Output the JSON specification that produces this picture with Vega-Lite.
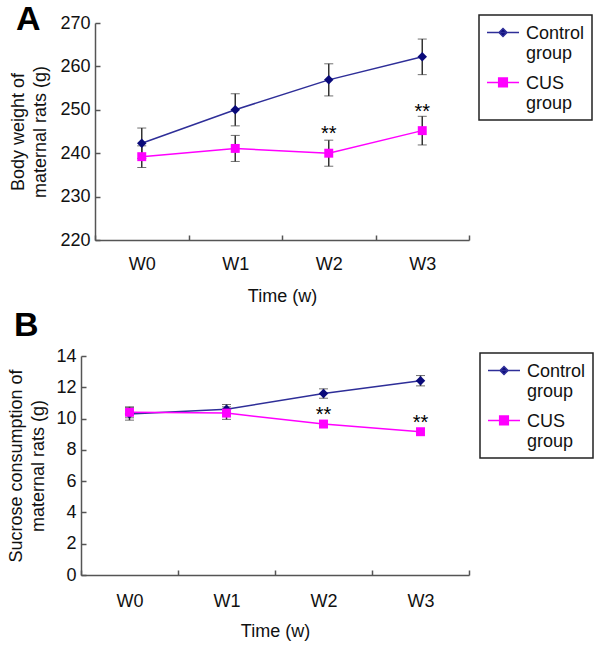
{
  "$schema": "https://vega.github.io/schema/vega-lite/v6.json",
  "padding": {"left": 7, "top": 3, "right": 2, "bottom": 2},
  "background": "white",
  "config": {
    "font": "Liberation Sans",
    "view": {"stroke": null},
    "axis": {"domainColor": "#555", "domainWidth": 1.5, "tickColor": "#555", "tickWidth": 1.5, "tickSize": -5, "labelFont": "Liberation Sans", "labelFontSize": 18, "labelColor": "#111", "titleFont": "Liberation Sans", "titleFontSize": 18, "titleFontWeight": "normal", "titleColor": "#111", "grid": false, "titleLineHeight": 22, "labelOverlap": false},
    "legend": {"labelFont": "Liberation Sans", "labelFontSize": 18, "labelBaseline": "alphabetic", "labelColor": "#111", "strokeColor": "#222", "strokeWidth": 1.5, "padding": 7, "symbolSize": 1024, "symbolStrokeWidth": 1.5, "symbolOpacity": 1, "labelLimit": 200, "rowPadding": 9, "labelOffset": 6},
    "title": {"font": "Liberation Sans", "fontSize": 34, "fontWeight": "bold", "color": "#000", "anchor": "start", "frame": "bounds"}
  },
  "datasets": {
    "rats": [
      {"panel": "A", "week": "W0", "group": "Control group", "mean": 242.3, "err": 3.5, "sig": ""},
      {"panel": "A", "week": "W1", "group": "Control group", "mean": 250.0, "err": 3.7, "sig": ""},
      {"panel": "A", "week": "W2", "group": "Control group", "mean": 256.9, "err": 3.7, "sig": ""},
      {"panel": "A", "week": "W3", "group": "Control group", "mean": 262.2, "err": 4.1, "sig": ""},
      {"panel": "A", "week": "W0", "group": "CUS group", "mean": 239.2, "err": 2.5, "sig": ""},
      {"panel": "A", "week": "W1", "group": "CUS group", "mean": 241.1, "err": 3.0, "sig": ""},
      {"panel": "A", "week": "W2", "group": "CUS group", "mean": 240.0, "err": 3.0, "sig": "**"},
      {"panel": "A", "week": "W3", "group": "CUS group", "mean": 245.2, "err": 3.3, "sig": "**"},
      {"panel": "B", "week": "W0", "group": "Control group", "mean": 10.3, "err": 0.4, "sig": ""},
      {"panel": "B", "week": "W1", "group": "Control group", "mean": 10.6, "err": 0.3, "sig": ""},
      {"panel": "B", "week": "W2", "group": "Control group", "mean": 11.6, "err": 0.3, "sig": ""},
      {"panel": "B", "week": "W3", "group": "Control group", "mean": 12.42, "err": 0.33, "sig": ""},
      {"panel": "B", "week": "W0", "group": "CUS group", "mean": 10.4, "err": 0.35, "sig": ""},
      {"panel": "B", "week": "W1", "group": "CUS group", "mean": 10.35, "err": 0.4, "sig": ""},
      {"panel": "B", "week": "W2", "group": "CUS group", "mean": 9.65, "err": 0.2, "sig": "**"},
      {"panel": "B", "week": "W3", "group": "CUS group", "mean": 9.16, "err": 0.2, "sig": "**"}
    ]
  },
  "spacing": 4,
  "resolve": {"scale": {"fill": "independent", "stroke": "independent", "shape": "independent"}, "legend": {"fill": "independent", "stroke": "independent", "shape": "independent"}},
  "vconcat": [
    {
      "width": 388,
      "height": 217,
      "title": {"text": "A", "offset": -23, "dx": 6},
      "data": {"name": "rats"},
      "transform": [{"filter": "datum.panel === 'A'"}],
      "encoding": {
        "x": {"field": "week", "type": "nominal", "scale": {"paddingInner": 0, "paddingOuter": 0, "range": [14, 388]}, "axis": {"title": "Time (w)", "labelAngle": 0, "tickBand": "extent", "labelPadding": 20, "titlePadding": 14}},
        "y": {"field": "mean", "type": "quantitative", "scale": {"domain": [220, 270]}, "axis": {"title": ["Body weight of", "maternal rats (g)"], "values": [220, 230, 240, 250, 260, 270], "labelOverlap": false, "labelPadding": 10, "titlePadding": 10, "offset": -14}}
      },
      "layer": [
        {
          "mark": {"type": "errorbar", "ticks": {"size": 9, "color": "#333", "strokeWidth": 1.5}, "rule": {"color": "#333", "strokeWidth": 1.5}},
          "encoding": {"yError": {"field": "err"}, "detail": {"field": "group"}}
        },
        {
          "transform": [{"filter": "datum.group === 'Control group'"}],
          "mark": {"type": "line", "color": "#2e2e98", "strokeWidth": 1.5}
        },
        {
          "transform": [{"filter": "datum.group === 'CUS group'"}],
          "mark": {"type": "line", "color": "#ff00ff", "strokeWidth": 1.5}
        },
        {
          "transform": [{"filter": "datum.group === 'Control group'"}],
          "mark": {"type": "point", "shape": "diamond", "filled": true, "color": "#0a0a7a", "opacity": 1, "size": 90}
        },
        {
          "transform": [{"filter": "datum.group === 'CUS group'"}],
          "mark": {"type": "point", "shape": "square", "filled": true, "color": "#ff00ff", "opacity": 1, "size": 80}
        },
        {
          "mark": {"type": "text", "fontSize": 20, "font": "Liberation Sans", "color": "#000", "dy": -19, "baseline": "middle"},
          "encoding": {"text": {"field": "sig"}}
        },
        {
          "mark": {"type": "point", "filled": true, "opacity": 0},
          "encoding": {
            "fill": {"field": "group", "type": "nominal", "scale": {"domain": ["Control group", "CUS group"], "range": ["#0a0a7a", "#ff00ff"]}, "legend": {"title": null, "orient": "none", "legendX": 398, "legendY": -8, "labelExpr": "split(datum.label, ' ')"}},
            "stroke": {"field": "group", "type": "nominal", "scale": {"domain": ["Control group", "CUS group"], "range": ["#2e2e98", "#ff00ff"]}, "legend": {"title": null, "orient": "none", "legendX": 398, "legendY": -8, "labelExpr": "split(datum.label, ' ')"}},
            "shape": {"field": "group", "type": "nominal", "scale": {"domain": ["Control group", "CUS group"], "range": ["M-1,-0.41H1M0,-0.66L0.25,-0.41L0,-0.16L-0.25,-0.41Z", "M-1,-0.41H1M-0.27,-0.68H0.27V-0.14H-0.27Z"]}, "legend": {"title": null, "orient": "none", "legendX": 398, "legendY": -8, "labelExpr": "split(datum.label, ' ')"}}
          }
        }
      ]
    },
    {
      "width": 388,
      "height": 219,
      "title": {"text": "B", "offset": 4, "dx": 6},
      "data": {"name": "rats"},
      "transform": [{"filter": "datum.panel === 'B'"}],
      "encoding": {
        "x": {"field": "week", "type": "nominal", "scale": {"paddingInner": 0, "paddingOuter": 0}, "axis": {"title": "Time (w)", "labelAngle": 0, "tickBand": "extent", "labelPadding": 22, "titlePadding": 12}},
        "y": {"field": "mean", "type": "quantitative", "scale": {"domain": [0, 14]}, "axis": {"title": ["Sucrose consumption of", "maternal rats (g)"], "values": [0, 2, 4, 6, 8, 10, 12, 14], "labelOverlap": false, "labelPadding": 10, "titlePadding": 8}}
      },
      "layer": [
        {
          "mark": {"type": "errorbar", "ticks": {"size": 9, "color": "#333", "strokeWidth": 1.5}, "rule": {"color": "#333", "strokeWidth": 1.5}},
          "encoding": {"yError": {"field": "err"}, "detail": {"field": "group"}}
        },
        {
          "transform": [{"filter": "datum.group === 'Control group'"}],
          "mark": {"type": "line", "color": "#2e2e98", "strokeWidth": 1.5}
        },
        {
          "transform": [{"filter": "datum.group === 'CUS group'"}],
          "mark": {"type": "line", "color": "#ff00ff", "strokeWidth": 1.5}
        },
        {
          "transform": [{"filter": "datum.group === 'Control group'"}],
          "mark": {"type": "point", "shape": "diamond", "filled": true, "color": "#0a0a7a", "opacity": 1, "size": 90}
        },
        {
          "transform": [{"filter": "datum.group === 'CUS group'"}],
          "mark": {"type": "point", "shape": "square", "filled": true, "color": "#ff00ff", "opacity": 1, "size": 80}
        },
        {
          "mark": {"type": "text", "fontSize": 20, "font": "Liberation Sans", "color": "#000", "dy": -9, "baseline": "middle"},
          "encoding": {"text": {"field": "sig"}}
        },
        {
          "mark": {"type": "point", "filled": true, "opacity": 0},
          "encoding": {
            "fill": {"field": "group", "type": "nominal", "scale": {"domain": ["Control group", "CUS group"], "range": ["#0a0a7a", "#ff00ff"]}, "legend": {"title": null, "orient": "none", "legendX": 399, "legendY": -3, "labelExpr": "split(datum.label, ' ')"}},
            "stroke": {"field": "group", "type": "nominal", "scale": {"domain": ["Control group", "CUS group"], "range": ["#2e2e98", "#ff00ff"]}, "legend": {"title": null, "orient": "none", "legendX": 399, "legendY": -3, "labelExpr": "split(datum.label, ' ')"}},
            "shape": {"field": "group", "type": "nominal", "scale": {"domain": ["Control group", "CUS group"], "range": ["M-1,-0.41H1M0,-0.66L0.25,-0.41L0,-0.16L-0.25,-0.41Z", "M-1,-0.41H1M-0.27,-0.68H0.27V-0.14H-0.27Z"]}, "legend": {"title": null, "orient": "none", "legendX": 399, "legendY": -3, "labelExpr": "split(datum.label, ' ')"}}
          }
        }
      ]
    }
  ]
}
